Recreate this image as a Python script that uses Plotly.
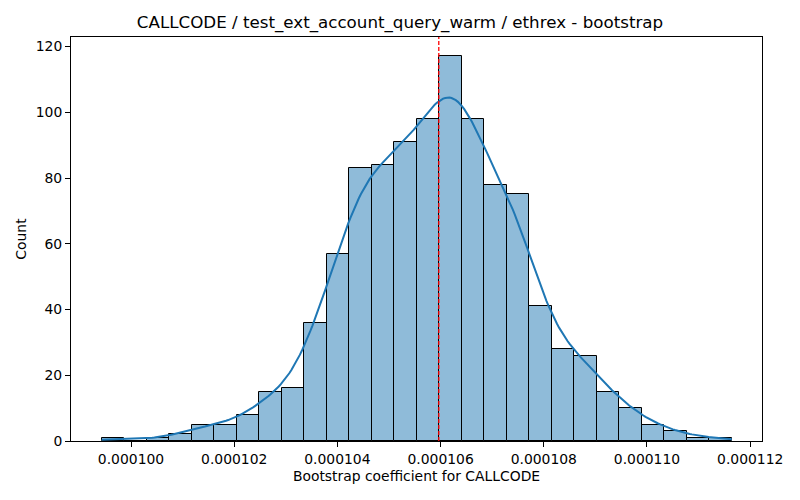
import numpy as np
import plotly.graph_objects as go

# histogram (28 bins, 1000 bootstrap samples)
bin_start = 9.9432e-05
bin_end = 1.116459e-04
counts = [1, 0, 1, 2, 5, 5, 8, 15, 16, 36, 57, 83, 84, 91,
          98, 117, 98, 78, 75, 41, 28, 26, 15, 10, 5, 3, 1, 1]
mean_line = 1.05965e-04
x_ticks = [0.000100, 0.000102, 0.000104, 0.000106, 0.000108, 0.000110, 0.000112]
y_ticks = [0, 20, 40, 60, 80, 100, 120]

title = "CALLCODE / test_ext_account_query_warm / ethrex - bootstrap"
x_label = "Bootstrap coefficient for CALLCODE"
y_label = "Count"

# bins
counts = np.array(counts, dtype=float)
edges = np.linspace(bin_start, bin_end, len(counts) + 1)
centers = (edges[:-1] + edges[1:]) / 2
width = edges[1] - edges[0]

# gaussian kde over the binned samples, scaled to counts (like seaborn)
n = counts.sum()
mu = np.sum(centers * counts) / n
sd = np.sqrt(np.sum(counts * (centers - mu) ** 2) / n)
bw = sd * n ** (-1 / 5)
grid = np.linspace(bin_start, bin_end, 300)
dens = np.zeros_like(grid)
for c, w in zip(centers, counts):
    dens += w * np.exp(-0.5 * ((grid - c) / bw) ** 2)
dens = dens / (n * bw * np.sqrt(2 * np.pi))
kde_y = dens * n * width

fig = go.Figure()
fig.add_trace(go.Bar(
    x=centers, y=counts, width=width,
    marker=dict(color="#8fbbd9", line=dict(color="black", width=1)),
    hoverinfo="x+y", showlegend=False,
))
fig.add_trace(go.Scatter(
    x=grid, y=kde_y, mode="lines",
    line=dict(color="#1f77b4", width=2), showlegend=False,
))
fig.add_shape(type="line", xref="x", yref="paper",
              x0=mean_line, x1=mean_line, y0=0, y1=1,
              line=dict(color="red", width=1.3, dash="4px,2px"))

fig.update_layout(
    width=800, height=500,
    margin=dict(l=71, r=38, t=37, b=59),
    paper_bgcolor="white", plot_bgcolor="white",
    font=dict(family="DejaVu Sans", size=13.9, color="black"),
    bargap=0,
    title=dict(text=title, x=0.5, xanchor="center", y=0.956, yanchor="middle",
               font=dict(size=16.7)),
)
fig.update_xaxes(
    range=[9.8837e-05, 1.12229e-04],
    tickvals=x_ticks, tickformat=".6f",
    showline=True, linecolor="black", linewidth=1, mirror=True,
    ticks="outside", ticklen=5, tickcolor="black",
    showgrid=False, zeroline=False,
    title=dict(text=x_label, font=dict(size=13.9), standoff=5),
)
fig.update_yaxes(
    range=[0, 122.9],
    tickvals=y_ticks,
    showline=True, linecolor="black", linewidth=1, mirror=True,
    ticks="outside", ticklen=5, tickcolor="black",
    showgrid=False, zeroline=False,
    title=dict(text=y_label, font=dict(size=13.9), standoff=5),
)

# drop the browser's default body margin so the figure sits at 0,0
fig.write_html("out.html", config={"displayModeBar": False},
               post_script="document.body.style.margin='0';")
